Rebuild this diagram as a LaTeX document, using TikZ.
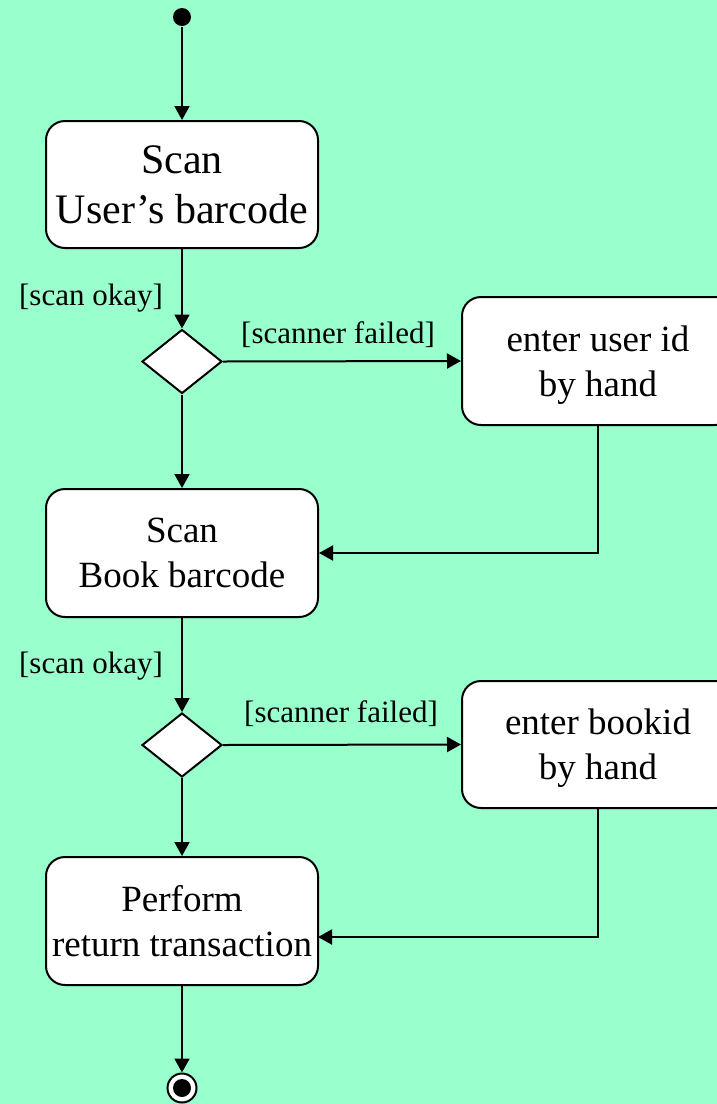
\documentclass[tikz,border=0pt]{standalone}
\usepackage{fontspec}
\setmainfont{Liberation Serif}
\usetikzlibrary{shapes.geometric,arrows.meta}
\definecolor{bg}{RGB}{153,255,204}
\begin{document}
\begin{tikzpicture}[x=1pt,y=-1pt, line width=2pt,
  actbox/.style={draw, fill=white, rounded corners=19pt, minimum width=272pt, minimum height=127pt, inner sep=0pt, align=center, text depth=0pt},
  big/.style={font=\fontsize{42}{50}\selectfont},
  med/.style={font=\fontsize{37}{45}\selectfont},
  guard/.style={font=\fontsize{31}{36}\selectfont, inner sep=0pt, anchor=base},
  dec/.style={diamond, draw, fill=white, minimum width=80pt, minimum height=64pt, inner sep=0pt},
  flow/.style={-{Triangle[length=14pt,width=15pt]}}]
\useasboundingbox (0,0) rectangle (717,1104);
\fill[bg] (0,0) rectangle (717,1104);

\node[circle, fill, minimum size=18pt, inner sep=0pt] (start) at (182,17) {};
\node[actbox, big] (b1) at (182,184.5) {Scan\\User’s barcode};
\node[dec] (d1) at (182,361.5) {};
\node[actbox, med, minimum height=128pt] (b2) at (598,361) {enter user id\\by hand};
\node[actbox, med, minimum height=128pt] (b3) at (182,553) {Scan\\Book barcode};
\node[dec] (d2) at (182,745) {};
\node[actbox, med] (b4) at (598,744.5) {enter bookid\\by hand};
\node[actbox, med, minimum height=128pt] (b5) at (182,921) {Perform\\return transaction};
\node[circle, draw, fill=white, minimum size=29pt, inner sep=0pt] (fin) at (182,1088) {};
\fill (fin.center) circle (9);
\coordinate (in5) at (318,937);

\node[guard] (g1) at (91,305) {[scan okay]};
\node[guard] (g2) at (338,343) {[scanner failed]};
\node[guard] (g3) at (91,673) {[scan okay]};
\node[guard] (g4) at (341,722) {[scanner failed]};

\draw[flow] (start) -- (b1.north);
\draw[flow] (b1.south) -- (d1.north);
\draw[flow] (d1.east) -- (b2.west);
\draw[flow] (b2.south) |- (b3.east);
\draw[flow] (d1.south) -- (b3.north);
\draw[flow] (b3.south) -- (d2.north);
\draw[flow] (d2.east) -- (b4.west);
\draw[flow] (b4.south) |- (in5);
\draw[flow] (d2.south) -- (b5.north);
\draw[flow] (b5.south) -- (fin.north);
\end{tikzpicture}
\end{document}
